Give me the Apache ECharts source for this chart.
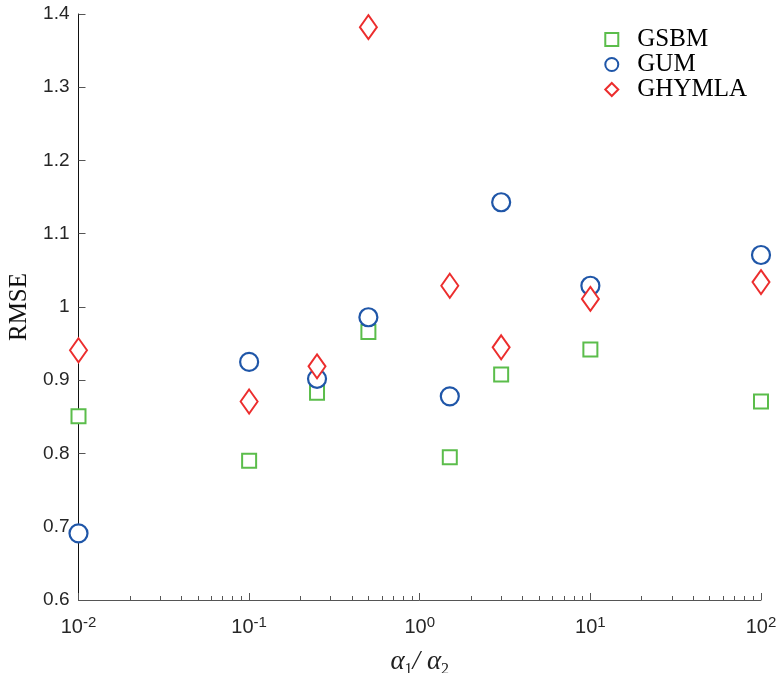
<!DOCTYPE html>
<html>
<head>
<meta charset="utf-8">
<script src="https://cdn.jsdelivr.net/npm/echarts@6/dist/echarts.min.js"></script>
<style>
  html, body { margin: 0; padding: 0; background: #fff; }
  #main { width: 777px; height: 673px; }
</style>
</head>
<body>
<div id="main"></div>
<script>
// ratio alpha1/alpha2 (log axis)
var ratios = [0.01, 0.1, 0.25, 0.5, 1.5, 3, 10, 100];
var gsbm   = [0.851, 0.790, 0.883, 0.966, 0.795, 0.908, 0.942, 0.871];
var gum    = [0.691, 0.925, 0.902, 0.986, 0.878, 1.143, 1.029, 1.071];
var ghymla = [0.941, 0.871, 0.919, 1.382, 1.029, 0.945, 1.011, 1.034];
var decades = [0.01, 0.1, 1, 10];
var minorMult = [2, 3, 4, 5, 6, 7, 8, 9];

var minorTicks = [];
decades.forEach(function (d) {
    minorMult.forEach(function (m) { minorTicks.push(+(d * m).toPrecision(3)); });
});

function pairs(ys) {
    return ratios.map(function (x, i) { return [x, ys[i]]; });
}

var GREEN = '#5bbd4b', BLUE = '#1f56a8', RED = '#ec2d2d';
var serif = '"Liberation Serif", "DejaVu Serif", serif';
var sans = '"Liberation Sans", Arial, sans-serif';

var chart = echarts.init(document.getElementById('main'));
chart.setOption({
    animation: false,
    grid: { left: 78.5, right: 16, top: 14, bottom: 73, outerBoundsMode: 'none' },
    legend: {
        orient: 'vertical',
        right: 25,
        top: 22,
        itemWidth: 13,
        itemHeight: 13,
        itemGap: 0,
        textStyle: { fontFamily: serif, fontSize: 25, lineHeight: 24, color: '#000', padding: [0, 0, 0, 14] },
        data: [
            { name: 'GSBM', icon: 'rect' },
            { name: 'GUM', icon: 'circle' },
            { name: 'GHYMLA', icon: 'diamond' }
        ]
    },
    xAxis: [{
        type: 'log',
        logBase: 10,
        min: 0.01,
        max: 100,
        name: '{a|α}{s|1}{a|/ α}{s|2}',
        nameLocation: 'middle',
        nameGap: 46,
        nameTextStyle: {
            rich: {
                a: { fontFamily: serif, fontStyle: 'italic', fontSize: 27, color: '#222' },
                s: { fontFamily: serif, fontSize: 16, color: '#222', verticalAlign: 'bottom', padding: [16, 0, 0, 0] }
            }
        },
        axisLine: { show: true, lineStyle: { color: '#555', width: 1 } },
        axisTick: { show: true, inside: true, length: 7, lineStyle: { color: '#555' } },
        splitLine: { show: false },
        axisLabel: {
            margin: 15,
            formatter: function (v) {
                return '{b|10}{s|' + Math.round(Math.log10(v)) + '}';
            },
            rich: {
                b: { fontFamily: sans, fontSize: 20, color: '#262626' },
                s: { fontFamily: sans, fontSize: 15, color: '#262626', verticalAlign: 'top', padding: [0, 0, 10, 0] }
            }
        }
    }, {
        type: 'log',
        logBase: 10,
        min: 0.01,
        max: 100,
        position: 'bottom',
        axisLine: { show: false },
        axisLabel: { show: false },
        splitLine: { show: false },
        axisTick: {
            show: true, inside: true, length: 4,
            customValues: minorTicks,
            lineStyle: { color: '#555' }
        }
    }],
    yAxis: {
        type: 'value',
        min: 0.6,
        max: 1.4,
        interval: 0.1,
        name: 'RMSE',
        nameLocation: 'middle',
        nameGap: 47,
        nameRotate: 90,
        nameTextStyle: { fontFamily: serif, fontSize: 25, color: '#111' },
        axisLine: { show: true, lineStyle: { color: '#111', width: 1 } },
        axisTick: { show: true, inside: true, length: 7, lineStyle: { color: '#555' } },
        splitLine: { show: false },
        axisLabel: {
            margin: 9,
            fontFamily: sans,
            fontSize: 19,
            color: '#262626',
            formatter: function (v) { return String(+v.toFixed(1)); }
        }
    },
    series: [{
        name: 'GSBM',
        type: 'scatter',
        symbol: 'rect',
        symbolSize: 14,
        itemStyle: { color: '#fff', borderColor: GREEN, borderWidth: 2, opacity: 1 },
        data: pairs(gsbm)
    }, {
        name: 'GUM',
        type: 'scatter',
        symbol: 'circle',
        symbolSize: 18,
        itemStyle: { color: '#fff', borderColor: BLUE, borderWidth: 2.2, opacity: 1 },
        data: pairs(gum)
    }, {
        name: 'GHYMLA',
        type: 'scatter',
        symbol: 'diamond',
        symbolSize: [17, 24],
        itemStyle: { color: '#fff', borderColor: RED, borderWidth: 2, opacity: 1 },
        data: pairs(ghymla)
    }]
});
</script>
</body>
</html>
